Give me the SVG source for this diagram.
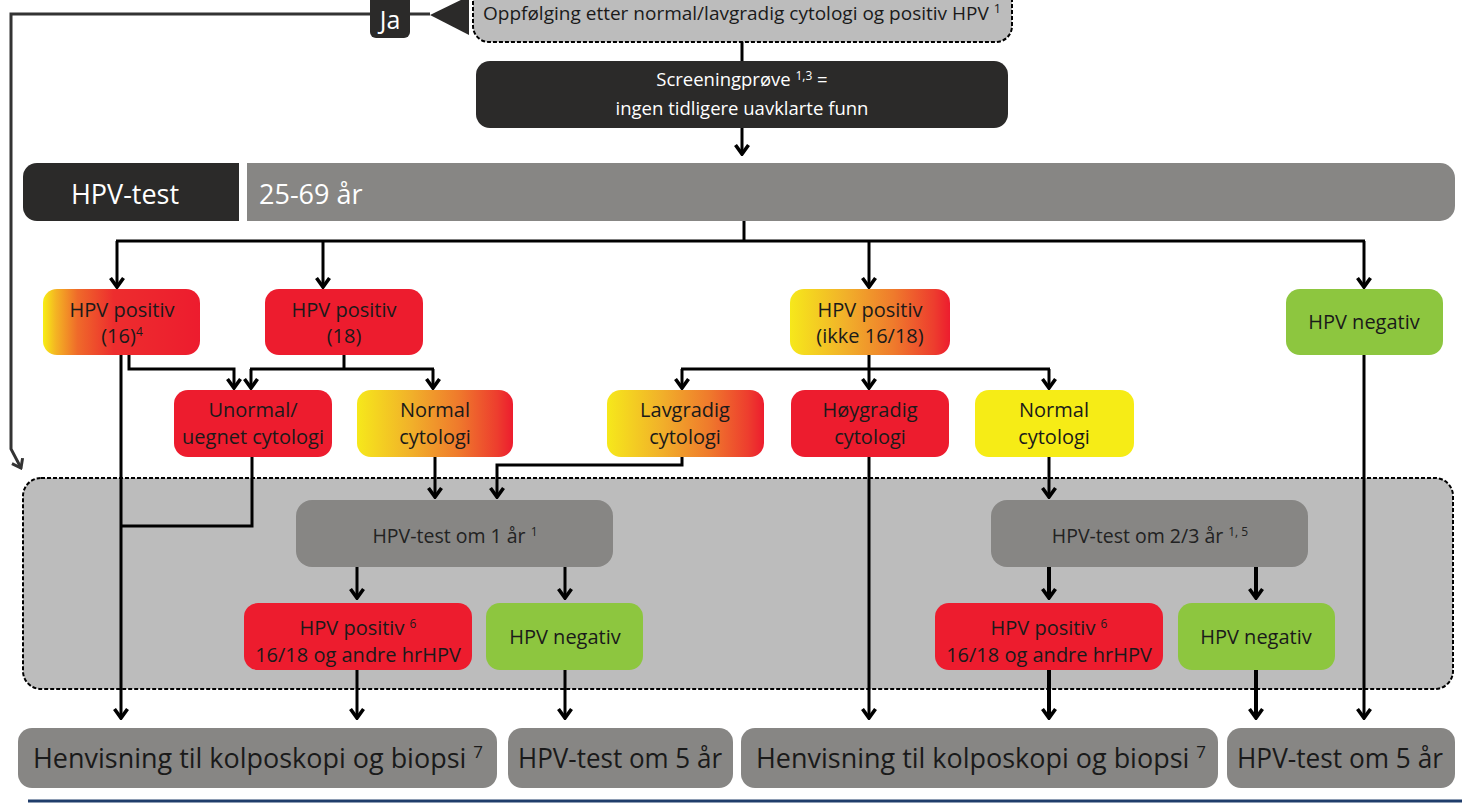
<svg xmlns="http://www.w3.org/2000/svg" width="1462" height="804" viewBox="0 0 1462 804">
<style>
text{font-family:"Open Sans","Liberation Sans",sans-serif;}
.t{font-size:20px;fill:#1a1a1a;text-anchor:middle;}
.tm{font-size:19.5px;fill:#222;text-anchor:middle;}
.tw{font-size:18.5px;fill:#fff;text-anchor:middle;}
.tb{font-size:27px;fill:#1a1a1a;text-anchor:middle;}
.sup{font-size:12px;}
.red{fill:#ed1c2e;}
.grn{fill:#8dc63f;}
.yel{fill:#f6ec16;}
.gry{fill:#878684;}
.drk{fill:#2b2a29;}
.dash{fill:#bcbcbc;stroke:#000;stroke-width:2;stroke-dasharray:4 2;}
.c{fill:none;stroke:#000;stroke-width:3;}
.c4{fill:none;stroke:#000;stroke-width:4;}
</style>
<defs>
<linearGradient id="g16" x1="0" y1="0" x2="1" y2="0">
<stop offset="0" stop-color="#f7ee14"/>
<stop offset="0.08" stop-color="#f4b523"/>
<stop offset="0.22" stop-color="#ef6a2a"/>
<stop offset="0.45" stop-color="#ed2d2e"/>
<stop offset="1" stop-color="#ed1c2e"/>
</linearGradient>
<linearGradient id="gyr" x1="0" y1="0" x2="1" y2="0">
<stop offset="0" stop-color="#f6e81b"/>
<stop offset="0.35" stop-color="#f1b02a"/>
<stop offset="0.65" stop-color="#ef7a2c"/>
<stop offset="0.9" stop-color="#ed3d2e"/>
<stop offset="1" stop-color="#ed1c2e"/>
</linearGradient>
<marker id="ah" viewBox="-12 -9 14 18" refX="0" refY="0" markerWidth="14" markerHeight="18" markerUnits="userSpaceOnUse" orient="auto">
<path d="M-9,-6.5 L0,0 L-9,6.5" fill="none" stroke="#000" stroke-width="3.6"/>
</marker>
<marker id="ahg" viewBox="-12 -9 14 18" refX="0" refY="0" markerWidth="14" markerHeight="18" markerUnits="userSpaceOnUse" orient="auto">
<path d="M-8,-6 L0,0 L-8,6" fill="none" stroke="#333" stroke-width="3"/>
</marker>
</defs>

<rect x="0" y="0" width="1462" height="804" fill="#fff"/>

<g id="followup-area">
<rect class="dash" x="23" y="478" width="1430" height="211" rx="18"/>
</g>

<g id="connectors">
<path d="M430,14 H11 V449 L21,468" fill="none" stroke="#333" stroke-width="3" marker-end="url(#ahg)"/>
<path class="c" d="M742,42 V61"/>
<path class="c" d="M742,128 V154" marker-end="url(#ah)"/>
<path class="c" d="M744,221 V241"/>
<path class="c" d="M116,241 H1365"/>
<path class="c" d="M117,241 V287" marker-end="url(#ah)"/>
<path class="c" d="M323,241 V287" marker-end="url(#ah)"/>
<path class="c" d="M869,241 V287" marker-end="url(#ah)"/>
<path class="c" d="M1364,241 V287" marker-end="url(#ah)"/>

<path class="c" d="M121,355 V718" marker-end="url(#ah)"/>
<path class="c" d="M129,355 V369 H234 V388" marker-end="url(#ah)"/>
<path class="c" d="M344,355 V369"/>
<path class="c" d="M250,369 H434"/>
<path class="c" d="M251,369 V388" marker-end="url(#ah)"/>
<path class="c" d="M433,369 V388" marker-end="url(#ah)"/>
<path class="c" d="M869,355 V388" marker-end="url(#ah)"/>
<path class="c" d="M681,369 H1050"/>
<path class="c" d="M682,369 V388" marker-end="url(#ah)"/>
<path class="c" d="M1049,369 V388" marker-end="url(#ah)"/>
<path class="c" d="M1364,355 V718" marker-end="url(#ah)"/>

<path class="c" d="M252,457 V526 H120"/>
<path class="c" d="M435,457 V497" marker-end="url(#ah)"/>
<path class="c" d="M682,457 V465 H497 V497" marker-end="url(#ah)"/>
<path class="c" d="M869,457 V718" marker-end="url(#ah)"/>
<path class="c" d="M1049,457 V497" marker-end="url(#ah)"/>

<path class="c" d="M357,567 V598" marker-end="url(#ah)"/>
<path class="c" d="M565,567 V598" marker-end="url(#ah)"/>
<path class="c4" d="M1049,567 V598" marker-end="url(#ah)"/>
<path class="c4" d="M1256,567 V598" marker-end="url(#ah)"/>

<path class="c" d="M357,670 V718" marker-end="url(#ah)"/>
<path class="c" d="M565,670 V718" marker-end="url(#ah)"/>
<path class="c4" d="M1049,670 V718" marker-end="url(#ah)"/>
<path class="c4" d="M1256,670 V718" marker-end="url(#ah)"/>
</g>

<g id="ja">
<rect class="drk" x="370" y="-10" width="40" height="48" rx="6"/>
<text x="390" y="29" font-size="25" fill="#fff" text-anchor="middle">Ja</text>
<polygon class="drk" points="430,15 469,-4 469,35"/>
</g>

<g id="oppfolging">
<rect class="dash" x="473" y="-20" width="539" height="62" rx="16"/>
<text x="483" y="20" font-size="18" fill="#1a1a1a" textLength="518" lengthAdjust="spacingAndGlyphs">Oppfølging etter normal/lavgradig cytologi og positiv HPV <tspan class="sup" dy="-7">1</tspan></text>
</g>

<g id="screening">
<rect class="drk" x="476" y="61" width="532" height="67" rx="14"/>
<text class="tw" x="742" y="86">Screeningprøve <tspan class="sup" dy="-6">1,3</tspan><tspan dy="6"> =</tspan></text>
<text class="tw" x="742" y="115">ingen tidligere uavklarte funn</text>
</g>

<g id="hpv-test-bar">
<path class="drk" d="M37,163 H239 V221 H37 A14,14 0 0 1 23,207 V177 A14,14 0 0 1 37,163 Z"/>
<text x="125" y="204" font-size="27" fill="#fff" text-anchor="middle">HPV-test</text>
</g>
<g id="age-bar">
<path class="gry" d="M247,163 H1440 A15,15 0 0 1 1455,178 V206 A15,15 0 0 1 1440,221 H247 Z"/>
<text x="259" y="204" font-size="27" fill="#fff">25-69 år</text>
</g>

<g id="hpv16">
<rect x="43" y="289" width="157" height="66" rx="14" fill="url(#g16)"/>
<text class="t" x="122" y="317">HPV positiv</text>
<text class="t" x="122" y="343">(16)<tspan class="sup" dy="-7">4</tspan></text>
</g>
<g id="hpv18">
<rect class="red" x="265" y="289" width="158" height="66" rx="14"/>
<text class="t" x="344" y="317">HPV positiv</text>
<text class="t" x="344" y="343">(18)</text>
</g>
<g id="hpv-ikke">
<rect x="790" y="289" width="160" height="66" rx="14" fill="url(#gyr)"/>
<text class="t" x="870" y="317">HPV positiv</text>
<text class="t" x="870" y="343">(ikke 16/18)</text>
</g>
<g id="hpv-neg-top">
<rect class="grn" x="1286" y="289" width="157" height="66" rx="14"/>
<text class="t" x="1364" y="329">HPV negativ</text>
</g>

<g id="unormal">
<rect class="red" x="174" y="390" width="158" height="67" rx="14"/>
<text class="t" x="253" y="417">Unormal/</text>
<text class="t" x="253" y="444">uegnet cytologi</text>
</g>
<g id="normal-left">
<rect x="357" y="390" width="156" height="67" rx="14" fill="url(#gyr)"/>
<text class="t" x="435" y="417">Normal</text>
<text class="t" x="435" y="444">cytologi</text>
</g>
<g id="lavgradig">
<rect x="607" y="390" width="157" height="67" rx="14" fill="url(#gyr)"/>
<text class="t" x="685" y="417">Lavgradig</text>
<text class="t" x="685" y="444">cytologi</text>
</g>
<g id="hoygradig">
<rect class="red" x="791" y="390" width="158" height="67" rx="14"/>
<text class="t" x="870" y="417">Høygradig</text>
<text class="t" x="870" y="444">cytologi</text>
</g>
<g id="normal-right">
<rect class="yel" x="975" y="390" width="159" height="67" rx="14"/>
<text class="t" x="1054" y="417">Normal</text>
<text class="t" x="1054" y="444">cytologi</text>
</g>

<g id="test-1ar">
<rect class="gry" x="296" y="500" width="317" height="67" rx="16"/>
<text class="tm" x="455" y="543">HPV-test om 1 år <tspan class="sup" dy="-7">1</tspan></text>
</g>
<g id="test-23ar">
<rect class="gry" x="991" y="500" width="317" height="67" rx="16"/>
<text class="tm" x="1150" y="543">HPV-test om 2/3 år <tspan class="sup" dy="-7">1, 5</tspan></text>
</g>

<g id="pos-left">
<rect class="red" x="244" y="603" width="228" height="67" rx="14"/>
<text class="t" x="358" y="635">HPV positiv <tspan class="sup" dy="-7">6</tspan></text>
<text class="t" x="358" y="662">16/18 og andre hrHPV</text>
</g>
<g id="neg-left">
<rect class="grn" x="486" y="603" width="157" height="67" rx="14"/>
<text class="t" x="565" y="644">HPV negativ</text>
</g>
<g id="pos-right">
<rect class="red" x="935" y="603" width="228" height="67" rx="14"/>
<text class="t" x="1049" y="635">HPV positiv <tspan class="sup" dy="-7">6</tspan></text>
<text class="t" x="1049" y="662">16/18 og andre hrHPV</text>
</g>
<g id="neg-right">
<rect class="grn" x="1178" y="603" width="157" height="67" rx="14"/>
<text class="t" x="1256" y="644">HPV negativ</text>
</g>

<g id="henvisning-left">
<rect class="gry" x="18" y="728" width="479" height="60" rx="14"/>
<text class="tb" x="258" y="768" textLength="450" lengthAdjust="spacingAndGlyphs">Henvisning til kolposkopi og biopsi <tspan font-size="17" dy="-10">7</tspan></text>
</g>
<g id="test5-left">
<rect class="gry" x="508" y="728" width="225" height="60" rx="14"/>
<text class="tb" x="620" y="768" textLength="204" lengthAdjust="spacingAndGlyphs">HPV-test om 5 år</text>
</g>
<g id="henvisning-right">
<rect class="gry" x="741" y="728" width="477" height="60" rx="14"/>
<text class="tb" x="981" y="768" textLength="450" lengthAdjust="spacingAndGlyphs">Henvisning til kolposkopi og biopsi <tspan font-size="17" dy="-10">7</tspan></text>
</g>
<g id="test5-right">
<rect class="gry" x="1227" y="728" width="228" height="60" rx="14"/>
<text class="tb" x="1340" y="768" textLength="206" lengthAdjust="spacingAndGlyphs">HPV-test om 5 år</text>
</g>

<line x1="28" y1="801" x2="1462" y2="801" stroke="#1f3d6b" stroke-width="3"/>
</svg>
